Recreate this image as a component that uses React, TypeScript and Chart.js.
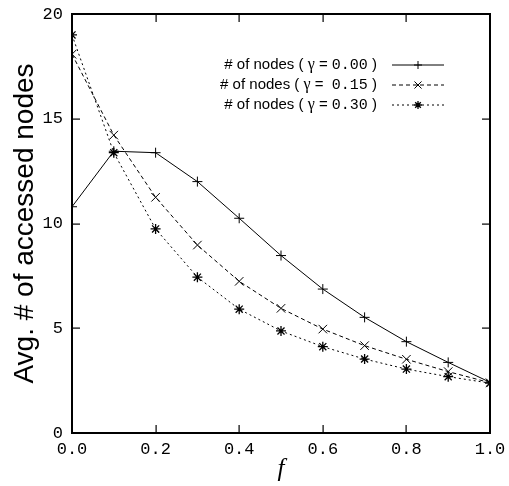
import React, { useEffect, useRef } from "react";
import { Chart, registerables } from "chart.js";

Chart.register(...registerables);

const xValues = [0, 0.1, 0.2, 0.3, 0.4, 0.5, 0.6, 0.7, 0.8, 0.9, 1.0];
const gamma000 = [10.8, 13.45, 13.38, 12.0, 10.25, 8.47, 6.87, 5.52, 4.36, 3.37, 2.42];
const gamma015 = [18.08, 14.22, 11.25, 8.97, 7.24, 5.95, 4.96, 4.17, 3.52, 2.93, 2.4];
const gamma030 = [19.0, 13.38, 9.74, 7.44, 5.91, 4.87, 4.12, 3.53, 3.05, 2.69, 2.38];
const gammaLabels = ["0.00", "0.15", "0.30"];
const gammaGaps = [" = ", " =  ", " = "];
const xTitle = "f";
const yTitle = "Avg. # of accessed nodes";

const SANS = '"Liberation Sans", Arial, sans-serif';
const MONO = '"Liberation Mono", "Courier New", monospace';
const SERIF = '"Liberation Serif", "Times New Roman", serif';

function drawFrame(chart: any) {
  const ctx = chart.ctx;
  const xs = chart.scales.x;
  const ys = chart.scales.y;
  const left = Math.round(xs.getPixelForValue(xs.min));
  const right = Math.round(xs.getPixelForValue(xs.max));
  const top = Math.round(ys.getPixelForValue(ys.max));
  const bottom = Math.round(ys.getPixelForValue(ys.min));
  const L = 8;
  const w = 2;
  ctx.save();
  ctx.fillStyle = "#000";
  ctx.fillRect(left - 1, top - 1, right - left + w, w);
  ctx.fillRect(left - 1, bottom - 1, right - left + w, w);
  ctx.fillRect(left - 1, top - 1, w, bottom - top + w);
  ctx.fillRect(right - 1, top - 1, w, bottom - top + w);
  const xt = xs.ticks;
  const yt = ys.ticks;
  for (let i = 0; i < xt.length; i++) {
    const px = Math.round(xs.getPixelForValue(xt[i].value));
    ctx.fillRect(px - 0.5, bottom - L, 1.2, L);
    ctx.fillRect(px - 0.5, top, 1.2, L);
  }
  for (let i = 0; i < yt.length; i++) {
    const py = Math.round(ys.getPixelForValue(yt[i].value));
    ctx.fillRect(left, py - 0.5, L, 1.2);
    ctx.fillRect(right - L, py - 0.5, L, 1.2);
  }
  ctx.restore();
}

function drawLegend(chart: any) {
  const ctx = chart.ctx;
  const rowsY = [65, 85, 105];
  const textRight = 377;
  const lineX0 = 392;
  const lineX1 = 444;
  ctx.save();
  chart.data.datasets.forEach((ds: any, i: number) => {
    const y = rowsY[i];
    const parts = [
      { t: "# of nodes ( ", f: `15px ${SANS}` },
      { t: "\u03b3", f: `16px ${SERIF}` },
      { t: gammaGaps[i], f: `15px ${SANS}` },
      { t: gammaLabels[i], f: `15px ${MONO}` },
      { t: " )", f: `15px ${SANS}` },
    ];
    const widths = parts.map((p) => {
      ctx.font = p.f;
      return ctx.measureText(p.t).width;
    });
    const total = widths.reduce((a, b) => a + b, 0);
    let x = textRight - total;
    ctx.fillStyle = "#000";
    ctx.textBaseline = "middle";
    ctx.textAlign = "left";
    parts.forEach((p, k) => {
      ctx.font = p.f;
      ctx.fillText(p.t, x, y);
      x += widths[k];
    });
    ctx.strokeStyle = "#000";
    ctx.lineWidth = 1;
    ctx.setLineDash(ds.borderDash || []);
    ctx.beginPath();
    ctx.moveTo(lineX0, y);
    ctx.lineTo(lineX1, y);
    ctx.stroke();
    ctx.setLineDash([]);
    const cx = (lineX0 + lineX1) / 2;
    const r = ds.pointRadius - 1;
    ctx.lineWidth = ds.pointBorderWidth || 1;
    ctx.beginPath();
    const style = ds.pointStyle;
    if (style === "cross" || style === "star") {
      ctx.moveTo(cx - r, y);
      ctx.lineTo(cx + r, y);
      ctx.moveTo(cx, y - r);
      ctx.lineTo(cx, y + r);
    }
    if (style === "crossRot" || style === "star") {
      const d = r * Math.SQRT1_2;
      ctx.moveTo(cx - d, y - d);
      ctx.lineTo(cx + d, y + d);
      ctx.moveTo(cx - d, y + d);
      ctx.lineTo(cx + d, y - d);
    }
    ctx.stroke();
  });
  ctx.restore();
}

const decorPlugin = {
  id: "gnuDecor",
  afterDraw(chart: any) {
    drawLegend(chart);
    drawFrame(chart);
  },
};

export default function App() {
  const ref = useRef<HTMLCanvasElement | null>(null);
  useEffect(() => {
    if (!ref.current) return;
    const mk = (vals: number[]) => xValues.map((x, i) => ({ x, y: vals[i] }));
    const chart = new Chart(ref.current, {
      type: "line",
      data: {
        datasets: [
          {
            label: "# of nodes ( \u03b3 = 0.00 )",
            data: mk(gamma000),
            borderColor: "#000",
            borderWidth: 1,
            pointStyle: "cross",
            pointRadius: 5,
            pointBorderColor: "#000",
            pointBorderWidth: 1,
            borderDash: [],
          },
          {
            label: "# of nodes ( \u03b3 = 0.15 )",
            data: mk(gamma015),
            borderColor: "#000",
            borderWidth: 1,
            pointStyle: "crossRot",
            pointRadius: 6,
            pointBorderColor: "#000",
            pointBorderWidth: 1,
            borderDash: [4, 3],
          },
          {
            label: "# of nodes ( \u03b3 = 0.30 )",
            data: mk(gamma030),
            borderColor: "#000",
            borderWidth: 1,
            pointStyle: "star",
            pointRadius: 5,
            pointBorderColor: "#000",
            pointBorderWidth: 1.3,
            borderDash: [2, 3],
          },
        ],
      },
      options: {
        responsive: false,
        animation: false,
        devicePixelRatio: 1,
        layout: { padding: { left: 0, right: 19, top: 14, bottom: 0 } },
        plugins: { legend: { display: false }, tooltip: { enabled: false } },
        elements: { line: { tension: 0, fill: false } },
        scales: {
          x: {
            type: "linear",
            min: 0,
            max: 1,
            grid: { display: false, drawTicks: false },
            border: { display: false },
            ticks: {
              stepSize: 0.2,
              color: "#000",
              font: { family: MONO, size: 17 },
              padding: 6,
              maxRotation: 0,
              callback: (v: any) => Number(v).toFixed(1),
            },
            title: {
              display: true,
              text: xTitle,
              color: "#000",
              font: { family: SERIF, size: 25, style: "italic" },
              padding: { top: 0, bottom: 2 },
            },
            afterFit: (s: any) => {
              s.height = 53;
              s.paddingLeft = 0;
              s.paddingRight = 0;
            },
          },
          y: {
            type: "linear",
            min: 0,
            max: 20,
            grid: { display: false, drawTicks: false },
            border: { display: false },
            ticks: {
              stepSize: 5,
              color: "#000",
              font: { family: MONO, size: 17 },
              padding: 9,
            },
            title: {
              display: true,
              text: yTitle,
              color: "#000",
              font: { family: SANS, size: 28 },
              padding: { top: 8, bottom: 0 },
            },
            afterFit: (s: any) => {
              s.width = 72;
              s.paddingTop = 0;
              s.paddingBottom = 0;
            },
          },
        },
      },
      plugins: [decorPlugin],
    });
    return () => chart.destroy();
  }, []);
  return (
    <div style={{ position: "fixed", left: 0, top: 0, width: 509, height: 486, background: "#fff" }}>
      <canvas ref={ref} width={509} height={486} style={{ display: "block" }} />
    </div>
  );
}
